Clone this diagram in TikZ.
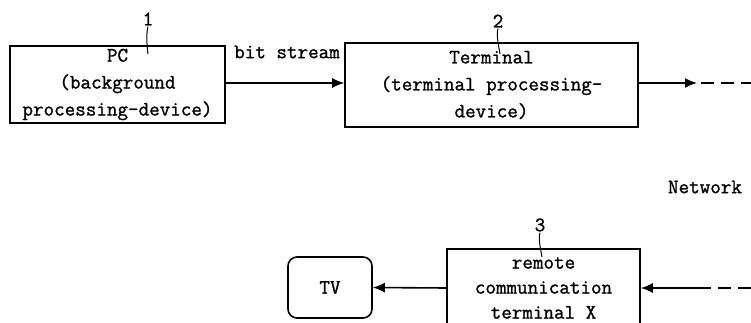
\documentclass[tikz,border=0pt]{standalone}
\usepackage{fontspec}
\newfontfamily\diagtt{Latin Modern Mono}[FakeBold=1.2]
\usetikzlibrary{arrows.meta}
\begin{document}
\begin{tikzpicture}[x=1pt,y=-1pt,
  every node/.style={font=\diagtt\fontsize{20.5}{27}\selectfont, inner sep=0pt},
  box/.style={draw, line width=1.6pt, align=center},
  rbox/.style={draw, line width=1.6pt, rounded corners=9pt, align=center},
  conn/.style={line width=1.6pt, -{Latex[length=12pt,width=10pt]}},
  dashline/.style={line width=1.6pt, dash pattern=on 13pt off 7pt},
  tick/.style={line width=1pt}]
\useasboundingbox (0,0) rectangle (751,323);
\clip (0,0) rectangle (751,323);

\node[box, minimum width=215pt, minimum height=77pt] (pc) at (117.5,84.5)
  {PC\\(background\\processing-device)};
\node[box, minimum width=293pt, minimum height=84pt] (term) at (491.5,85)
  {Terminal\\(terminal processing-\\device)};
\node[rbox, minimum width=84pt, minimum height=61pt] (tv) at (330,287.5) {TV};
\node[box, minimum width=193pt, minimum height=78pt, font=\diagtt\fontsize{20.5}{25}\selectfont] (rem) at (543.5,288)
  {remote\\communication\\terminal X};

\node (l1) at (148,19) {1};
\node (l2) at (498,21) {2};
\node (l3) at (540,225) {3};
\draw[tick] (l1.south) ++(0,1) .. controls +(-2,6) and +(-1,-6) .. (148,54);
\draw[tick] (l2.south) ++(0,1) .. controls +(-2,6) and +(-1,-6) .. (500,54);
\draw[tick] (l3.south) ++(0,1) .. controls +(-2,6) and +(-1,-6) .. (542,257);

\node (bs) at (287,52) {bit stream};
\node (net) at (705,187) {Network};

\coordinate (outA) at (697,83);
\coordinate (outB) at (751,83);
\coordinate (inA) at (751,288);
\coordinate (inB) at (706,288);

\draw[conn] (pc.east |- outA) -- (term.west |- outA);
\draw[conn] (term.east |- outA) -- (outA);
\draw[dashline] (outA) ++(4,0) -- (outB);
\draw[dashline] (inA) -- (inB);
\draw[conn] (inB) -- (rem.east);
\draw[conn] (rem.west) -- (tv.east);
\end{tikzpicture}
\end{document}
